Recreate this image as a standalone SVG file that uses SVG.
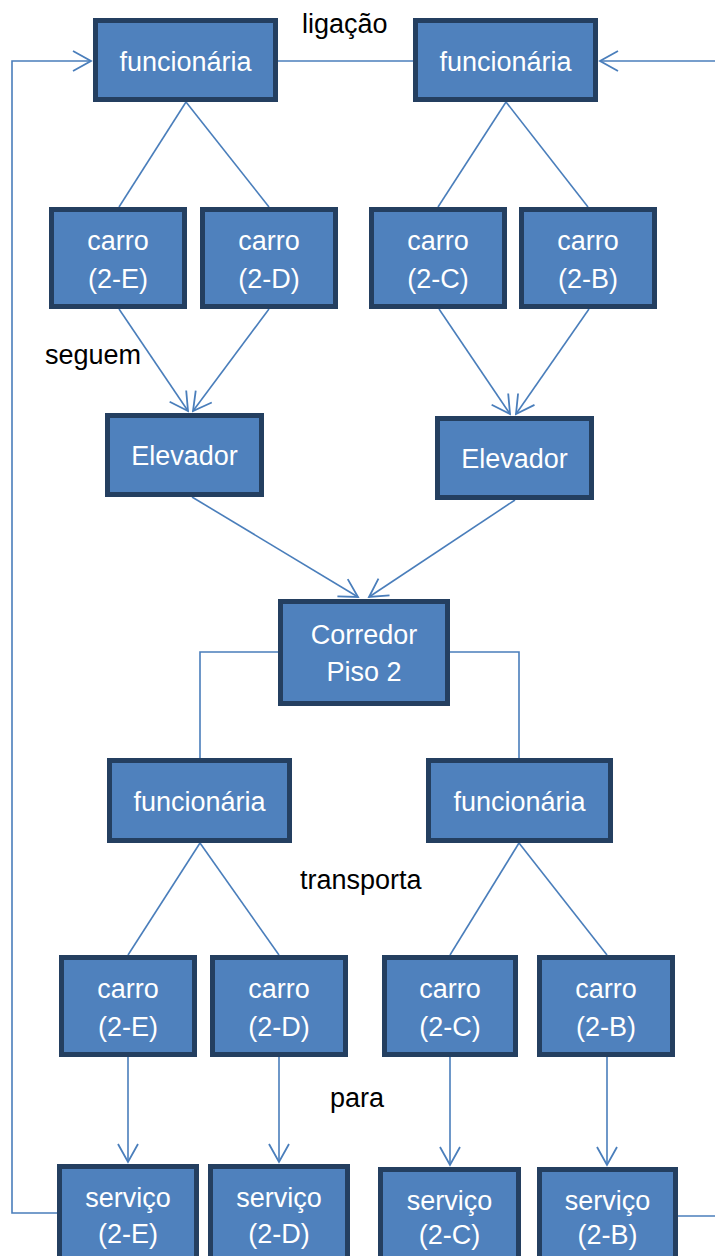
<svg xmlns="http://www.w3.org/2000/svg" width="715" height="1256" viewBox="0 0 715 1256">
<style>
.box{fill:#4F81BD;stroke:#243F60;stroke-width:5}
.t{font-family:"Liberation Sans",Arial,sans-serif;font-size:27px;fill:#FFFFFF;text-anchor:middle}
.lbl{font-family:"Liberation Sans",Arial,sans-serif;font-size:27px;fill:#000000}
.c{fill:none;stroke:#4A7EBB;stroke-width:1.6}
</style>
<defs>
<marker id="arr" markerUnits="userSpaceOnUse" markerWidth="22" markerHeight="24" viewBox="0 0 22 24" refX="20" refY="12" orient="auto">
<path d="M2,2 L20,12 L2,22" fill="none" stroke="#4A7EBB" stroke-width="1.8"/>
</marker>
</defs>
<rect width="715" height="1256" fill="#FFFFFF"/>
<g id="connectors">
<path class="c" d="M278,61 H413"/>
<path class="c" d="M60,1213 H12 V61 H91" marker-end="url(#arr)"/>
<path class="c" d="M715,61 H600" marker-end="url(#arr)"/>
<path class="c" d="M678,1216 H715"/>
<path class="c" d="M186,102 L119,207"/>
<path class="c" d="M186,102 L269,207"/>
<path class="c" d="M506,102 L438,207"/>
<path class="c" d="M506,102 L588,207"/>
<path class="c" d="M119,309 L188,411" marker-end="url(#arr)"/>
<path class="c" d="M269,309 L193,411" marker-end="url(#arr)"/>
<path class="c" d="M439,309 L510,414" marker-end="url(#arr)"/>
<path class="c" d="M589,309 L516,414" marker-end="url(#arr)"/>
<path class="c" d="M192,497 L358,597" marker-end="url(#arr)"/>
<path class="c" d="M515,500 L369,597" marker-end="url(#arr)"/>
<path class="c" d="M280,652 H200 V758"/>
<path class="c" d="M450,652 H519 V758"/>
<path class="c" d="M200,843 L128,955"/>
<path class="c" d="M200,843 L279,955"/>
<path class="c" d="M519,843 L450,955"/>
<path class="c" d="M519,843 L607,955"/>
<path class="c" d="M128,1057 V1162" marker-end="url(#arr)"/>
<path class="c" d="M279,1057 V1162" marker-end="url(#arr)"/>
<path class="c" d="M450,1057 V1165" marker-end="url(#arr)"/>
<path class="c" d="M607,1057 V1165" marker-end="url(#arr)"/>
</g>
<g id="labels">
<text class="lbl" x="302" y="33">ligação</text>
<text class="lbl" x="45" y="364">seguem</text>
<text class="lbl" x="300" y="889">transporta</text>
<text class="lbl" x="330" y="1107">para</text>
</g>
<g id="f1"><rect class="box" x="95.5" y="20.5" width="180" height="79"/><text class="t" x="185.5" y="71">funcionária</text></g>
<g id="f2"><rect class="box" x="415.5" y="20.5" width="180" height="79"/><text class="t" x="505.5" y="71">funcionária</text></g>
<g id="c1e"><rect class="box" x="51.5" y="209.5" width="133" height="97"/><text class="t" x="118" y="250">carro</text><text class="t" x="118" y="288">(2-E)</text></g>
<g id="c1d"><rect class="box" x="202.5" y="209.5" width="133" height="97"/><text class="t" x="269" y="250">carro</text><text class="t" x="269" y="288">(2-D)</text></g>
<g id="c1c"><rect class="box" x="371.5" y="209.5" width="133" height="97"/><text class="t" x="438" y="250">carro</text><text class="t" x="438" y="288">(2-C)</text></g>
<g id="c1b"><rect class="box" x="521.5" y="209.5" width="133" height="97"/><text class="t" x="588" y="250">carro</text><text class="t" x="588" y="288">(2-B)</text></g>
<g id="e1"><rect class="box" x="107.5" y="415.5" width="154" height="79"/><text class="t" x="184.5" y="465">Elevador</text></g>
<g id="e2"><rect class="box" x="437.5" y="418.5" width="154" height="79"/><text class="t" x="514.5" y="468">Elevador</text></g>
<g id="corredor"><rect class="box" x="280.5" y="601.5" width="167" height="102"/><text class="t" x="364" y="644">Corredor</text><text class="t" x="364" y="681">Piso 2</text></g>
<g id="f3"><rect class="box" x="109.5" y="760.5" width="180" height="80"/><text class="t" x="199.5" y="811">funcionária</text></g>
<g id="f4"><rect class="box" x="428.5" y="760.5" width="182" height="80"/><text class="t" x="519.5" y="811">funcionária</text></g>
<g id="c2e"><rect class="box" x="61.5" y="957.5" width="133" height="97"/><text class="t" x="128" y="998">carro</text><text class="t" x="128" y="1036">(2-E)</text></g>
<g id="c2d"><rect class="box" x="212.5" y="957.5" width="133" height="97"/><text class="t" x="279" y="998">carro</text><text class="t" x="279" y="1036">(2-D)</text></g>
<g id="c2c"><rect class="box" x="384.5" y="957.5" width="131" height="97"/><text class="t" x="450" y="998">carro</text><text class="t" x="450" y="1036">(2-C)</text></g>
<g id="c2b"><rect class="box" x="539.5" y="957.5" width="133" height="97"/><text class="t" x="606" y="998">carro</text><text class="t" x="606" y="1036">(2-B)</text></g>
<g id="s2e"><rect class="box" x="59.5" y="1166.5" width="137" height="100"/><text class="t" x="128" y="1207">serviço</text><text class="t" x="128" y="1243">(2-E)</text></g>
<g id="s2d"><rect class="box" x="210.5" y="1166.5" width="137" height="100"/><text class="t" x="279" y="1207">serviço</text><text class="t" x="279" y="1243">(2-D)</text></g>
<g id="s2c"><rect class="box" x="380.5" y="1169.5" width="138" height="100"/><text class="t" x="449.5" y="1210">serviço</text><text class="t" x="449.5" y="1244">(2-C)</text></g>
<g id="s2b"><rect class="box" x="539.5" y="1169.5" width="136" height="100"/><text class="t" x="607.5" y="1210">serviço</text><text class="t" x="607.5" y="1244">(2-B)</text></g>
</svg>
